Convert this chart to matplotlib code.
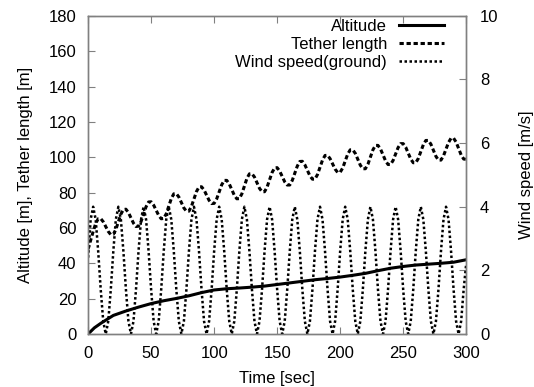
import numpy as np
import matplotlib
matplotlib.use("Agg")
import matplotlib.pyplot as plt

plt.rcParams['font.family'] = ['Liberation Sans', 'DejaVu Sans']

# time grid of the simulation log [sec], 2 s step
time = np.arange(0, 301, 2)

# altitude [m], read every 10 s
alt_time = [0, 5, 10, 20, 30, 40, 50, 60, 70, 80, 90, 100, 110, 120, 130, 140, 150,
            160, 170, 180, 190, 200, 210, 220, 230, 240, 250, 260, 270, 280, 290, 300]
altitude = [0.0, 3.5, 6.0, 10.5, 13.0, 15.2, 17.2, 18.8, 20.1, 21.6, 23.4, 24.9, 25.6, 26.0,
            26.5, 27.1, 28.0, 28.9, 29.8, 30.7, 31.4, 32.2, 33.2, 34.3, 35.8, 37.2, 38.2,
            39.0, 39.5, 40.0, 40.6, 42.0]

# tether length [m]
tether = [
    48.0, 53.0, 58.0, 62.5, 65.2, 65.3, 63.5, 60.8, 58.0, 56.2,
    56.4, 59.1, 63.4, 67.8, 70.4, 70.6, 68.7, 65.7, 62.7, 60.8,
    61.0, 63.6, 67.8, 72.0, 74.7, 74.8, 72.9, 70.0, 67.1, 65.2,
    65.4, 68.0, 72.3, 76.6, 79.3, 79.4, 77.5, 74.4, 71.3, 69.5,
    69.5, 72.2, 76.4, 80.6, 83.2, 83.3, 81.5, 78.6, 75.6, 73.8,
    73.9, 76.4, 80.4, 84.4, 86.9, 86.9, 84.9, 81.7, 78.5, 76.5,
    76.6, 79.3, 83.6, 88.0, 90.6, 90.7, 88.8, 85.6, 82.4, 80.5,
    80.5, 83.1, 87.3, 91.4, 94.0, 94.1, 92.2, 89.2, 86.1, 84.3,
    84.3, 86.9, 91.0, 95.0, 97.6, 97.7, 95.7, 92.6, 89.5, 87.6,
    87.6, 90.2, 94.3, 98.4, 101.0, 101.1, 99.2, 96.3, 93.3, 91.4,
    91.5, 93.9, 97.9, 101.8, 104.2, 104.2, 102.2, 98.9, 95.5, 93.5,
    93.5, 96.0, 100.1, 104.2, 106.7, 106.7, 104.7, 101.3, 98.0, 95.9,
    95.9, 98.2, 101.8, 105.5, 107.7, 107.7, 105.7, 102.3, 99.0, 96.9,
    96.9, 99.3, 103.2, 107.1, 109.5, 109.5, 107.4, 104.0, 100.5, 98.4,
    98.4, 100.8, 104.6, 108.4, 110.8, 110.8, 108.6, 104.9, 101.3, 99.0,
    98.8]

# wind speed at ground [m/s]
wind = [
    2.4, 3.6, 4.0, 3.6, 2.6, 1.4, 0.4, 0.0, 0.4, 1.4,
    2.6, 3.6, 4.0, 3.6, 2.6, 1.4, 0.4, 0.0, 0.4, 1.4,
    2.6, 3.6, 4.0, 3.6, 2.6, 1.4, 0.4, 0.0, 0.4, 1.4,
    2.6, 3.6, 4.0, 3.6, 2.6, 1.4, 0.4, 0.0, 0.4, 1.4,
    2.6, 3.6, 4.0, 3.6, 2.6, 1.4, 0.4, 0.0, 0.4, 1.4,
    2.6, 3.6, 4.0, 3.6, 2.6, 1.4, 0.4, 0.0, 0.4, 1.4,
    2.6, 3.6, 4.0, 3.6, 2.6, 1.4, 0.4, 0.0, 0.4, 1.4,
    2.6, 3.6, 4.0, 3.6, 2.6, 1.4, 0.4, 0.0, 0.4, 1.4,
    2.6, 3.6, 4.0, 3.6, 2.6, 1.4, 0.4, 0.0, 0.4, 1.4,
    2.6, 3.6, 4.0, 3.6, 2.6, 1.4, 0.4, 0.0, 0.4, 1.4,
    2.6, 3.6, 4.0, 3.6, 2.6, 1.4, 0.4, 0.0, 0.4, 1.4,
    2.6, 3.6, 4.0, 3.6, 2.6, 1.4, 0.4, 0.0, 0.4, 1.4,
    2.6, 3.6, 4.0, 3.6, 2.6, 1.4, 0.4, 0.0, 0.4, 1.4,
    2.6, 3.6, 4.0, 3.6, 2.6, 1.4, 0.4, 0.0, 0.4, 1.4,
    2.6, 3.6, 4.0, 3.6, 2.6, 1.4, 0.4, 0.0, 0.4, 1.4,
    2.2]

fig = plt.figure(figsize=(5.34, 3.87), dpi=100)
ax = fig.add_axes([0.165, 0.137, 0.708, 0.822])
ax2 = ax.twinx()

l1, = ax.plot(alt_time, altitude, color="black", lw=2.2, label="Altitude")
l2, = ax.plot(time, tether, color="black", lw=2.2, dashes=(1.4, 0.9), label="Tether length")
l3, = ax2.plot(time, wind, color="black", lw=1.8, dashes=(1.0, 1.0), label="Wind speed(ground)")

ax.set_xlim(0, 300)
ax.set_ylim(0, 180)
ax2.set_ylim(0, 10)
ax.set_xticks(range(0, 301, 50))
ax.set_yticks(range(0, 181, 20))
ax2.set_yticks(range(0, 11, 2))

for a in (ax, ax2):
    for s in a.spines.values():
        s.set_color("#808080")
        s.set_linewidth(1.0)
ax.tick_params(direction="in", length=5, width=0.8, color="#808080", labelsize=12, top=True, pad=8.5)
ax2.tick_params(direction="in", length=5, width=0.8, color="#808080", labelsize=12, pad=10)

ax.set_xlabel("Time [sec]", fontsize=12, labelpad=7)
ax.set_ylabel("Altitude [m], Tether length [m]", fontsize=12, labelpad=11)
ax2.set_ylabel("Wind speed [m/s]", fontsize=12, labelpad=15)

ax2.legend([l1, l2, l3], ["Altitude", "Tether length", "Wind speed(ground)"],
           loc="upper right", bbox_to_anchor=(1 - 19 / 378, 1.0),
           frameon=False, markerfirst=False, fontsize=12,
           handlelength=2.7, handletextpad=0.7, labelspacing=0.17,
           borderaxespad=0.0, borderpad=0.2)

fig.savefig("out.png", dpi=100)
